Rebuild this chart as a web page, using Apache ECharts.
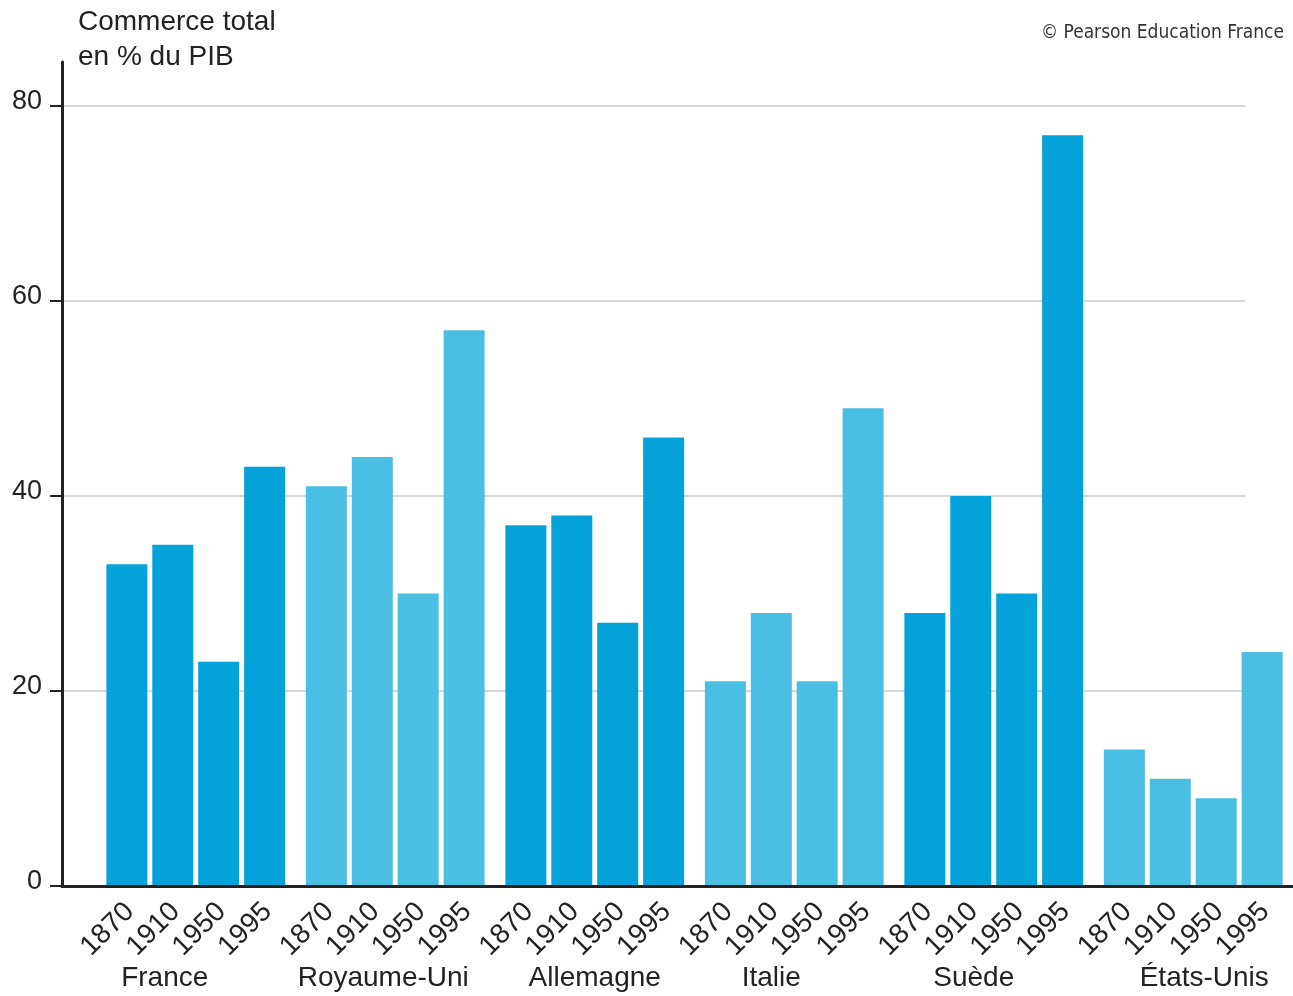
<!DOCTYPE html>
<html>
<head>
<meta charset="utf-8">
<script src="https://cdn.jsdelivr.net/npm/echarts@6/dist/echarts.min.js"></script>
<style>
  html, body { margin: 0; padding: 0; background: #fff; }
  #main { width: 1293px; height: 996px; }
</style>
</head>
<body>
<div id="main"></div>
<script>
// données
const countries = ['France', 'Royaume-Uni', 'Allemagne', 'Italie', 'Suède', 'États-Unis'];
const years = ['1870', '1910', '1950', '1995'];
const v1870 = [33, 41, 37, 21, 28, 14];
const v1910 = [35, 44, 38, 28, 40, 11];
const v1950 = [23, 30, 27, 21, 30, 9];
const v1995 = [43, 57, 46, 49, 77, 24];
const yTicks = [0, 20, 40, 60, 80];

const dark = '#03a3da';
const light = '#4bbee4';
const font = 'Liberation Sans, Arial, sans-serif';

// décalage horizontal des noms de pays (style seulement)
const nameShift = { 'France': -31, 'Royaume-Uni': -12, 'Allemagne': 0, 'Italie': -23, 'Suède': -20, 'États-Unis': 11 };

const chart = echarts.init(document.getElementById('main'));

function makeSeries(name, values) {
  return {
    name: name,
    type: 'bar',
    xAxisIndex: 2,
    yAxisIndex: 2,
    barWidth: 41,
    barGap: '12%',
    data: values.map((v, i) => ({
      value: v,
      itemStyle: { color: i % 2 === 0 ? dark : light }
    })),
    label: {
      show: true,
      position: 'bottom',
      distance: 24,
      offset: [4, 0],
      rotate: 45,
      align: 'right',
      verticalAlign: 'middle',
      formatter: name,
      fontFamily: font,
      fontSize: 28,
      color: '#222'
    }
  };
}

const countryData = countries.map(c => {
  const s = nameShift[c];
  return { value: c, textStyle: { padding: s < 0 ? [0, -2 * s, 0, 0] : [0, 0, 0, 2 * s] } };
});

const option = {
  animation: false,
  title: [
    {
      text: 'Commerce total\nen % du PIB',
      left: 78,
      top: 5,
      padding: 0,
      textStyle: { fontFamily: font, fontSize: 28, fontWeight: 'normal', color: '#222', lineHeight: 35 }
    },
    {
      text: '© Pearson Education France',
      right: 9,
      top: 24,
      padding: 0,
      textStyle: { fontFamily: 'Liberation Sans Narrow, DejaVu Sans Condensed, sans-serif', fontSize: 19, fontWeight: 'normal', color: '#333' }
    }
  ],
  grid: [
    { left: 62, right: 48, top: 106, bottom: 110 },
    { left: 62, right: 0, top: 62, bottom: 110 },
    { left: 96, right: -3, top: 106, bottom: 110 }
  ],
  xAxis: [
    { gridIndex: 0, type: 'value', show: false },
    {
      gridIndex: 1, type: 'value', min: 0, max: 1, z: 10,
      axisLine: { show: true, lineStyle: { color: '#222', width: 3 } },
      axisTick: { show: false }, axisLabel: { show: false }, splitLine: { show: false }
    },
    {
      gridIndex: 2, type: 'category', data: countryData,
      axisLine: { show: false }, axisTick: { show: false },
      axisLabel: { interval: 0, margin: 78, fontFamily: font, fontSize: 28, color: '#222' }
    }
  ],
  yAxis: [
    {
      gridIndex: 0, type: 'value', min: 0, max: 80, interval: 20,
      axisLine: { show: false },
      axisTick: { show: true, length: 12, lineStyle: { color: '#222', width: 2 } },
      axisLabel: {
        margin: 20, fontFamily: font, fontSize: 27, color: '#222',
        verticalAlign: 'bottom', lineHeight: 9,
        formatter: v => (yTicks.indexOf(v) >= 0 ? String(v) : '')
      },
      splitLine: { show: true, lineStyle: { color: '#d8d8d8', width: 2 } }
    },
    {
      gridIndex: 1, type: 'value', min: 0, max: 1, z: 10,
      axisLine: { show: true, lineStyle: { color: '#222', width: 3 } },
      axisTick: { show: false }, axisLabel: { show: false }, splitLine: { show: false }
    },
    { gridIndex: 2, type: 'value', min: 0, max: 80, show: false }
  ],
  series: [
    makeSeries(years[0], v1870),
    makeSeries(years[1], v1910),
    makeSeries(years[2], v1950),
    makeSeries(years[3], v1995)
  ]
};

chart.setOption(option);
</script>
</body>
</html>
